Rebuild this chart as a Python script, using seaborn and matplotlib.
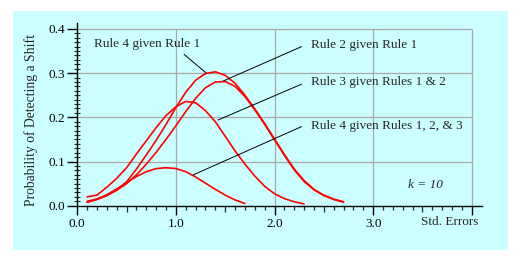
import numpy as np
import pandas as pd
import matplotlib
matplotlib.use("Agg")
import matplotlib.pyplot as plt
import seaborn as sns
from matplotlib.patches import Rectangle
from matplotlib.ticker import FixedLocator

sns.set_style("ticks")
plt.rcParams['font.family'] = ['Liberation Serif', 'DejaVu Serif']

# ---- data ----
std_errors = [0.1, 0.2, 0.3, 0.4, 0.5, 0.6, 0.7, 0.8, 0.9, 1.0, 1.1, 1.2, 1.3, 1.4,
              1.5, 1.6, 1.7, 1.8, 1.9, 2.0, 2.1, 2.2, 2.3, 2.4, 2.5, 2.6, 2.7]

rule4_given_rule1 = [0.008, 0.014, 0.023, 0.036, 0.054, 0.083, 0.115, 0.148, 0.184,
                     0.222, 0.257, 0.284, 0.299, 0.303, 0.295, 0.277, 0.250, 0.219,
                     0.186, 0.151, 0.116, 0.083, 0.057, 0.037, 0.024, 0.015, 0.009]
rule2_given_rule1 = [0.010, 0.015, 0.023, 0.035, 0.050, 0.070, 0.094, 0.121, 0.150,
                     0.181, 0.213, 0.243, 0.267, 0.280, 0.281, 0.270, 0.247, 0.217,
                     0.184, 0.149, 0.114, 0.081, 0.055, 0.036, 0.023, 0.014, 0.008]
rule3_given_rules12 = [0.020, 0.024, 0.042, 0.062, 0.086, 0.117, 0.147, 0.177, 0.204,
                       0.224, 0.236, 0.233, 0.215, 0.190, 0.157, 0.124, 0.094, 0.067,
                       0.044, 0.027, 0.016, 0.009, 0.004]
rule4_given_rules123 = [0.008, 0.015, 0.025, 0.038, 0.052, 0.066, 0.077, 0.084, 0.086,
                        0.084, 0.077, 0.065, 0.051, 0.037, 0.024, 0.013, 0.005]

series_names = ["Rule 4 given Rule 1", "Rule 2 given Rule 1",
                "Rule 3 given Rules 1 & 2", "Rule 4 given Rules 1, 2, & 3"]
series_values = [rule4_given_rule1, rule2_given_rule1,
                 rule3_given_rules12, rule4_given_rules123]

x_tick_labels = ["0.0", "1.0", "2.0", "3.0", ""]
y_tick_labels = ["0.0", "0.1", "0.2", "0.3", "0.4"]

rows = []
for name, vals in zip(series_names, series_values):
    for xv, yv in zip(std_errors[:len(vals)], vals):
        rows.append({"x": xv, "y": yv, "series": name})
df = pd.DataFrame(rows)

# ---- figure ----
fig = plt.figure(figsize=(5.2, 2.6), dpi=100)
fig.patch.set_facecolor("white")
bg = "#ccffff"
rect = Rectangle((13 / 520, 10 / 260), 495 / 520, 239 / 260,
                 transform=fig.transFigure, facecolor=bg, edgecolor="none")
rect.set_zorder(-10)
fig.add_artist(rect)
ax = fig.add_axes([77.3 / 520, 54.3 / 260, 404.3 / 520, 182.5 / 260])
ax.set_zorder(1)
ax.patch.set_alpha(0)

XMAX, YMAX = 4.1, 0.413
ax.set_xlim(0, XMAX)
ax.set_ylim(0, YMAX)

# grid
ax.vlines([1, 2, 3, 4], 0, 0.4, color="#a8a8a8", lw=0.9, zorder=1)
ax.hlines([0.1, 0.2, 0.3, 0.4], 0, 4, color="#a8a8a8", lw=0.9, zorder=1)

sns.lineplot(data=df, x="x", y="y", hue="series", hue_order=series_names,
             palette=["#ff0000"] * 4, estimator=None, sort=False,
             legend=False, lw=1.2, ax=ax, zorder=3)

for s in ["top", "right"]:
    ax.spines[s].set_visible(False)
for s in ["left", "bottom"]:
    ax.spines[s].set_color("black")
    ax.spines[s].set_linewidth(1.0)

# ticks
ax.xaxis.set_major_locator(FixedLocator([0, 1, 2, 3, 4]))
ax.set_xticklabels(x_tick_labels)
ax.xaxis.set_minor_locator(FixedLocator([v / 10 for v in range(1, 41) if v % 10 != 0]))
ax.yaxis.set_major_locator(FixedLocator([0, 0.1, 0.2, 0.3, 0.4]))
ax.set_yticklabels(y_tick_labels)
ax.yaxis.set_minor_locator(FixedLocator([v / 100 for v in range(1, 41) if v % 10 != 0]))

ax.tick_params(axis="x", which="major", direction="out", length=6.5, width=1.0,
               pad=2, labelsize=9.5, colors="black")
ax.tick_params(axis="x", which="minor", direction="out", length=3, width=0.9)
for loc, t in zip(ax.xaxis.get_minorticklocs(), ax.xaxis.get_minor_ticks()):
    if abs((loc * 10) % 10 - 5) < 1e-6:
        t.tick1line.set_markersize(4.5)
ax.tick_params(axis="y", which="major", direction="out", length=7.5, width=1.0,
               pad=1.5, labelsize=9.5, colors="black")
ax.tick_params(axis="y", which="minor", direction="inout", length=5, width=0.8)

ax.set_ylabel("Probability of Detecting a Shift", fontsize=9.8)
ax.yaxis.set_label_coords(-0.098, 0.47)
ax.set_xlabel("")
ax.text(4.07, -0.038, "Std. Errors", ha="right", va="center", fontsize=9.5)

# annotations with leader lines
ax.annotate("", xy=(1.303, 0.301), xytext=(1.083, 0.3425),
            arrowprops=dict(arrowstyle="-", color="black", lw=0.7,
                            shrinkA=0, shrinkB=0))
ax.text(0.167, 0.366, series_names[0], ha="left", va="center", fontsize=9.5)

leaders = [((1.479, 0.282), (2.274, 0.360), 0.364),
           ((1.428, 0.194), (2.274, 0.275), 0.280),
           ((1.174, 0.0695), (2.274, 0.179), 0.180)]
for name, (p_end, p_start, ty) in zip(series_names[1:], leaders):
    ax.annotate("", xy=p_end, xytext=p_start,
                arrowprops=dict(arrowstyle="-", color="black", lw=0.7,
                                shrinkA=0, shrinkB=0))
    ax.text(2.375, ty, name, ha="left", va="center", fontsize=9.5)

ax.text(3.352, 0.047, "k = 10", ha="left", va="center", fontsize=9.5,
        style="italic")

fig.savefig("out.png", dpi=100, facecolor="white")
